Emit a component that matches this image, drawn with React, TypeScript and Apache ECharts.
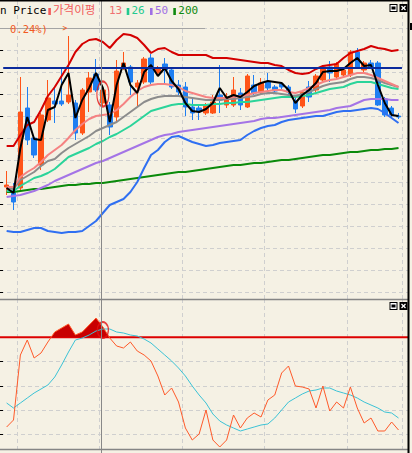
import { useEffect, useRef } from 'react';
import * as echarts from 'echarts';

// ---- price panel (candles) ----
const opens = [1133,1103,1123,1923,1623,1353,1803,1993,1993,1983,1973,1673,2083,2263,1973,1953,1833,2323,2333,2133,2183,2423,2273,2363,2303,2153,2133,1933,1923,1873,1873,2053,1953,1953,2073,1933,2153,2083,2183,2133,2163,2133,1993,1943,2133,2103,2203,2333,2233,2253,2253,2483,2303,2373,2373,2013,1923,1843];
const closes = [1153,983,1883,1603,1453,1853,2023,1963,1963,2053,1673,2103,2223,2103,2103,1733,2293,2373,2183,2173,2413,2183,2323,2303,2133,2083,1933,1873,1893,1953,1983,2003,2033,2103,1953,2243,2073,2173,2123,2093,2133,2083,1913,2083,2033,2243,2333,2273,2363,2303,2483,2333,2373,2333,1953,1853,1853,1833];
const lows = [1053,903,1103,1553,1423,1303,1783,1773,1943,1963,1603,1653,1883,2083,1943,1653,1783,2303,2053,1933,2163,2163,2243,2173,2113,2053,1843,1803,1803,1853,1863,1873,1923,1933,1903,1923,2053,2063,2103,2073,2113,2053,1873,1923,1983,2083,2183,2183,2213,2233,2233,2313,2283,2313,1943,1833,1833,1813];
const highs = [1293,1173,2233,2133,1643,1873,2203,2123,2333,2643,2003,2123,2283,2413,2143,1983,2403,2483,2353,2203,2433,2463,2343,2423,2323,2203,2183,2023,1953,1973,2053,2353,2073,2233,2123,2263,2253,2223,2273,2153,2183,2153,2023,2103,2193,2263,2353,2393,2383,2323,2503,2523,2393,2403,2393,2033,1943,1873];

// ---- price panel lines ----
const priceLine = [1123,1073,1523,1833,1613,1603,1903,1933,2153,2273,1823,2003,2123,2273,2123,1783,2153,2373,2153,2073,2283,2353,2243,2323,2193,2113,1973,1893,1883,1913,1973,2123,2023,2053,2033,2083,2143,2173,2193,2183,2173,2103,1973,2053,2103,2173,2283,2293,2293,2313,2373,2423,2343,2353,2153,1973,1853,1843];
const bandUpper = [1543,1543,1653,1753,1783,1903,2043,2133,2243,2353,2483,2563,2603,2613,2583,2523,2603,2663,2653,2623,2553,2473,2513,2523,2483,2453,2453,2453,2453,2453,2423,2423,2423,2413,2403,2393,2383,2373,2373,2353,2343,2303,2273,2263,2273,2313,2343,2353,2363,2423,2473,2493,2513,2543,2523,2513,2493,2503];
const bandLower = [693,683,683,703,723,723,693,683,673,683,683,693,743,793,873,953,983,1013,1083,1183,1323,1453,1503,1583,1633,1643,1613,1583,1563,1543,1553,1573,1583,1593,1603,1653,1693,1723,1743,1753,1783,1803,1813,1823,1833,1843,1843,1863,1883,1893,1893,1903,1913,1923,1913,1873,1823,1773];
const ma13 = [1133,1133,1233,1283,1323,1383,1453,1503,1553,1623,1703,1763,1813,1843,1853,1863,1903,1963,2033,2093,2133,2153,2163,2163,2153,2133,2093,2073,2053,2033,2023,2023,2023,2033,2043,2053,2073,2083,2093,2103,2103,2083,2073,2093,2123,2153,2183,2203,2213,2233,2253,2273,2273,2253,2223,2193,2163,2133];
const maGray = [1123,1113,1203,1243,1283,1343,1393,1413,1473,1523,1563,1603,1643,1693,1723,1753,1783,1833,1883,1933,1983,2013,2033,2043,2043,2043,2033,2023,2013,2003,2003,2003,2013,2013,2023,2033,2043,2063,2073,2073,2063,2053,2043,2063,2083,2113,2143,2163,2173,2183,2213,2233,2233,2223,2203,2173,2153,2133];
const ma26 = [1093,1093,1143,1183,1223,1243,1273,1313,1373,1433,1463,1493,1523,1563,1593,1633,1663,1703,1743,1793,1843,1893,1913,1933,1953,1963,1963,1953,1953,1953,1963,1963,1973,1973,1983,1983,1993,2003,2013,2023,2033,2033,2033,2043,2053,2073,2093,2113,2123,2133,2163,2183,2183,2183,2163,2143,2123,2113];
const ma50 = [1033,1043,1053,1073,1093,1123,1153,1193,1223,1253,1283,1313,1343,1373,1393,1423,1453,1483,1513,1543,1573,1603,1633,1653,1663,1683,1693,1703,1713,1723,1733,1743,1753,1763,1773,1783,1793,1813,1823,1823,1833,1843,1853,1863,1873,1883,1893,1903,1923,1933,1943,1973,2003,2013,2013,2013,2003,2003];
const ma200 = [1083,1083,1093,1103,1113,1113,1123,1133,1143,1153,1153,1163,1163,1173,1173,1183,1193,1203,1213,1223,1233,1243,1253,1263,1273,1283,1283,1293,1303,1313,1323,1333,1343,1353,1353,1363,1373,1373,1383,1393,1403,1403,1413,1423,1433,1443,1453,1453,1463,1473,1483,1483,1493,1503,1503,1513,1513,1523];
const resistanceLevel = 2323;
const priceMarker = { index: 14, value: 2063 };

// ---- oscillator panel ----
const osc = [22,29,94,109,91,96,107,117,121,125,114,117,124,131,122,111,103,101,107,98,94,88,73,54,61,47,21,9,15,39,9,2,9,34,21,31,36,32,49,54,76,83,63,62,60,41,63,38,47,41,62,41,26,31,18,18,27,19];
const oscSignal = [46,41,46,51,56,60,64,72,84,97,109,111,114,118,120,120,117,116,114,113,110,106,100,94,88,81,73,63,54,46,35,28,24,21,18,20,22,24,25,31,39,47,51,55,58,59,61,61,58,56,54,51,47,44,41,37,36,31];
const oscBaseline = 111.7;
const oscMarker = { index: 14, value: 119 };

const categories = opens.map((_, i) => `D${i + 1}`);

const BG = '#f5f1e4';
const UP = '#ff5418';
const DOWN = '#1f7ff2';
const GRID = { type: [4, 3], color: '#cfcfcf', width: 1 };

const maLine = (name: string, data: number[], color: string, width = 2) => ({
  type: 'line', name, xAxisIndex: 0, yAxisIndex: 0, data,
  symbol: 'none', showSymbol: false, silent: true,
  lineStyle: { color, width }, itemStyle: { color }, z: 3,
});

const catAxis = (gridIndex: number) => ({
  type: 'category', gridIndex, data: categories, boundaryGap: true,
  axisLine: { show: false }, axisTick: { show: false }, axisLabel: { show: false },
  splitLine: { show: true, interval: (i: number) => i % 12 === 2, lineStyle: GRID },
});

const bgYAxis = (gridIndex: number, min: number, max: number, interval: number) => ({
  type: 'value', gridIndex, min, max, interval, position: 'right', offset: 1,
  axisLine: { show: false },
  axisTick: { show: true, inside: false, length: 3, lineStyle: { color: '#000' } },
  axisLabel: { show: false },
  splitLine: { show: true, lineStyle: GRID },
});

const FONT_M = '"DejaVu Sans Mono", monospace';
const FONT_K = '"Noto Sans CJK KR", sans-serif';

const legendText = (text: string, x: number, y: number, fill: string, font: string) => ({
  type: 'text', x, y, z: 100, silent: true,
  style: { text, fill, font, verticalAlign: 'top', align: 'left' },
});
const legendSwatch = (x: number, fill: string) => ({
  type: 'rect', z: 100, silent: true, shape: { x, y: 8, width: 2.6, height: 7 }, style: { fill },
});
const icons = (y: number) => [
  { type: 'rect', z: 100, shape: { x: 389.5, y, width: 8, height: 8 }, style: { fill: '#000' } },
  { type: 'rect', z: 101, shape: { x: 390.5, y: y + 1, width: 6, height: 6 }, style: { fill: '#fff' } },
  { type: 'rect', z: 102, shape: { x: 391.5, y: y + 2.5, width: 4, height: 3 }, style: { fill: '#000' } },
  { type: 'rect', z: 100, shape: { x: 399.5, y, width: 8, height: 8 }, style: { fill: '#000' } },
  { type: 'line', z: 101, shape: { x1: 401.5, y1: y + 2, x2: 405.5, y2: y + 6 }, style: { stroke: '#fff', lineWidth: 1.3 } },
  { type: 'line', z: 101, shape: { x1: 405.5, y1: y + 2, x2: 401.5, y2: y + 6 }, style: { stroke: '#fff', lineWidth: 1.3 } },
];

const option: any = {
  animation: false,
  backgroundColor: BG,
  grid: [
    { left: 3.2, top: 1, width: 398.75, height: 298 },
    { left: 0, top: 28.3, width: 408, height: 264 },
    { left: 3.2, top: 299, width: 398.75, height: 150 },
    { left: 0, top: 337.3, width: 408, height: 97 },
  ],
  xAxis: [
    catAxis(0),
    { type: 'value', gridIndex: 1, min: 0, max: 1, show: false },
    catAxis(2),
    { type: 'value', gridIndex: 3, min: 0, max: 1, show: false },
  ],
  yAxis: [
    { type: 'value', gridIndex: 0, min: 13, max: 2993, show: false },
    bgYAxis(1, 80, 2720, 220),
    { type: 'value', gridIndex: 2, min: 0, max: 150, show: false },
    bgYAxis(3, 14.7, 111.7, 24.25),
  ],
  visualMap: [
    {
      show: false, type: 'piecewise', seriesIndex: 11, dimension: 1,
      pieces: [
        { min: -500, max: oscBaseline, color: 'rgba(200,0,0,0)' },
        { min: oscBaseline, max: 500, color: '#c80000' },
      ],
    },
  ],
  series: [
    {
      type: 'candlestick', xAxisIndex: 0, yAxisIndex: 0, silent: true,
      data: opens.map((o, i) => [o, closes[i], lows[i], highs[i]]),
      barWidth: 5,
      itemStyle: { color: UP, color0: DOWN, borderColor: UP, borderColor0: DOWN, borderWidth: 1 },
      markLine: {
        silent: true, symbol: ['none', 'none'], label: { show: false },
        lineStyle: { color: '#0b2a9c', width: 2, type: 'solid' },
        data: [{ yAxis: resistanceLevel }],
      },
      z: 2,
    },
    maLine('200', ma200, '#0a8a0a'),
    maLine('50', ma50, '#a474e6'),
    maLine('26', ma26, '#2bd49a'),
    maLine('gray', maGray, '#8c8c8c'),
    maLine('13', ma13, '#f58282'),
    maLine('band lower', bandLower, '#2f6ff2'),
    maLine('band upper', bandUpper, '#d40000'),
    maLine('Price', priceLine, '#000000'),
    {
      type: 'scatter', xAxisIndex: 0, yAxisIndex: 0, silent: true, z: 6,
      data: [[priceMarker.index, priceMarker.value]],
      symbol: 'circle', symbolSize: [12, 25],
      itemStyle: { color: 'rgba(0,0,0,0)', borderColor: '#e41010', borderWidth: 1.6 },
    },
    {
      type: 'line', xAxisIndex: 3, yAxisIndex: 3, silent: true, clip: false,
      data: [[0, oscBaseline], [1, oscBaseline]],
      symbol: 'none', lineStyle: { color: '#dd0000', width: 2 }, z: 2,
    },
    {
      type: 'line', xAxisIndex: 2, yAxisIndex: 2, silent: true,
      data: osc, symbol: 'none', showSymbol: false,
      lineStyle: { width: 0, opacity: 0 },
      areaStyle: { opacity: 1 },
      z: 3,
    },
    {
      type: 'line', xAxisIndex: 2, yAxisIndex: 2, silent: true,
      data: oscSignal, symbol: 'none', showSymbol: false,
      lineStyle: { color: '#3cc3d6', width: 1 }, z: 4,
    },
    {
      type: 'line', xAxisIndex: 2, yAxisIndex: 2, silent: true,
      data: osc, symbol: 'none', showSymbol: false,
      lineStyle: { color: '#ff5a2a', width: 1 }, z: 5,
    },
    {
      type: 'scatter', xAxisIndex: 2, yAxisIndex: 2, silent: true, z: 6,
      data: [[oscMarker.index, oscMarker.value]],
      symbol: 'circle', symbolSize: [11, 16],
      itemStyle: { color: 'rgba(0,0,0,0)', borderColor: '#e41010', borderWidth: 1.6 },
    },
  ],
  graphic: [
    { type: 'line', z: 1, silent: true, shape: { x1: 0, y1: 28.5, x2: 205, y2: 28.5 }, style: { stroke: '#a4a4a4', lineWidth: 1 } },
    { type: 'line', z: 90, silent: true, shape: { x1: 101.5, y1: 0, x2: 101.5, y2: 453 }, style: { stroke: '#888888', lineWidth: 1 } },
    { type: 'line', z: 95, silent: true, shape: { x1: 0, y1: 299.5, x2: 408, y2: 299.5 }, style: { stroke: '#858585', lineWidth: 1.5 } },
    { type: 'line', z: 95, silent: true, shape: { x1: 0, y1: 449.5, x2: 408, y2: 449.5 }, style: { stroke: '#858585', lineWidth: 1.5 } },
    { type: 'rect', z: 96, silent: true, shape: { x: 0, y: 0, width: 409, height: 1.5 }, style: { fill: '#000' } },
    { type: 'rect', z: 96, silent: true, shape: { x: 407.5, y: 0, width: 2, height: 453 }, style: { fill: '#000' } },
    { type: 'rect', z: 96, silent: true, shape: { x: 410, y: 23, width: 2, height: 7 }, style: { fill: '#000' } },
    legendText('n Price', 0, 5, '#000000', `11px ${FONT_M}`),
    legendSwatch(48.3, '#f25c5c'),
    legendText('가격이평', 53, 3.5, '#f25c5c', `11.5px ${FONT_K}`),
    legendText('13', 109, 5, '#f07070', `11px ${FONT_M}`),
    legendSwatch(126.7, '#22c98f'),
    legendText('26', 131.5, 5, '#22c98f', `11px ${FONT_M}`),
    legendSwatch(150, '#a070e4'),
    legendText('50', 155, 5, '#a070e4', `11px ${FONT_M}`),
    legendSwatch(173.3, '#0f8a0f'),
    legendText('200', 178.3, 5, '#0f8a0f', `11px ${FONT_M}`),
    legendText('0.24%)', 10, 23, '#f25a22', `10.5px ${FONT_M}`),
    legendText('>', 62.5, 24.5, '#f25a22', `8px ${FONT_M}`),
    ...icons(4),
    ...icons(302),
  ],
};

export default function App() {
  const ref = useRef<HTMLDivElement>(null);
  useEffect(() => {
    document.body.style.margin = '0';
    document.body.style.background = BG;
    const chart = echarts.init(ref.current!, null, { renderer: 'svg', width: 412, height: 453 });
    chart.setOption(option);
    return () => chart.dispose();
  }, []);
  return (
    <div
      ref={ref}
      style={{ position: 'absolute', left: 0, top: 0, width: 412, height: 453, background: BG }}
    />
  );
}
